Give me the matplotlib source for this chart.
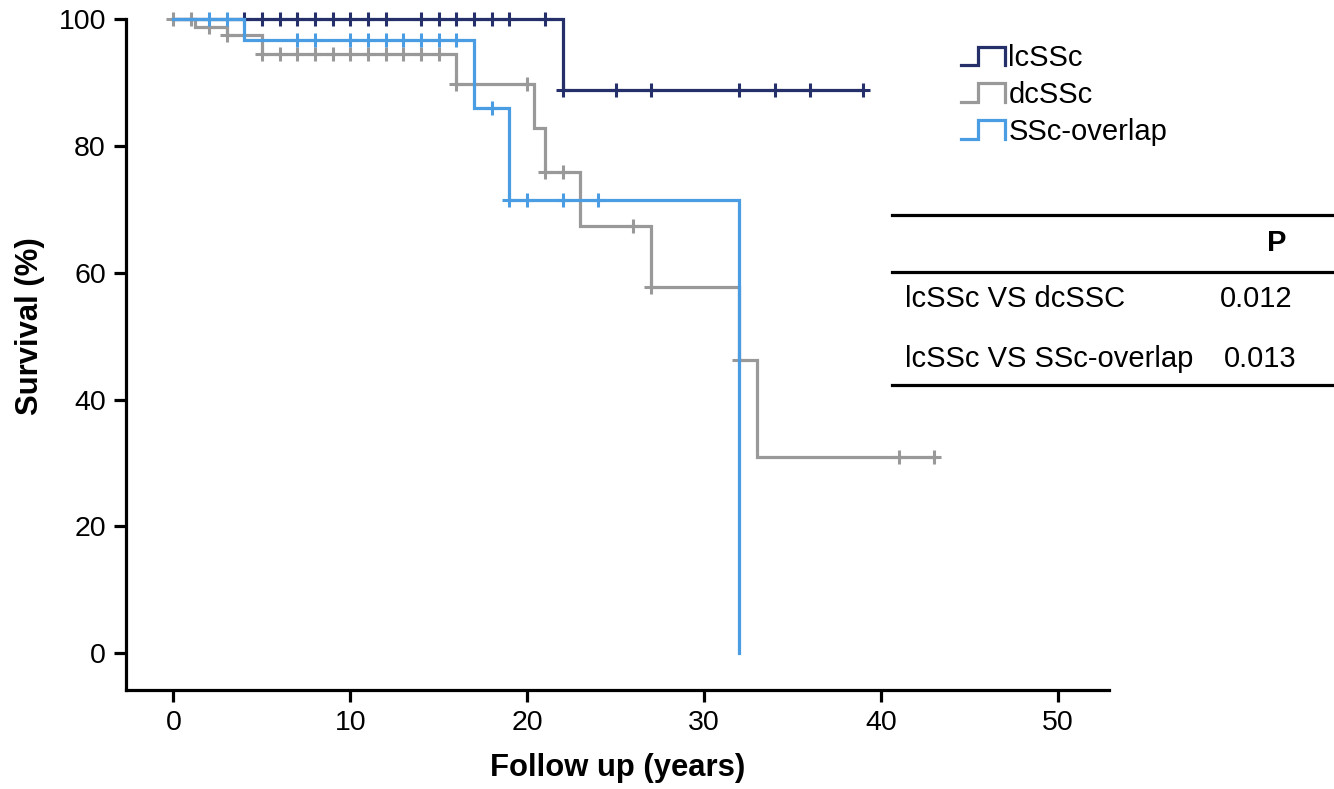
import numpy as np
import matplotlib
matplotlib.use("Agg")
import matplotlib.pyplot as plt
from matplotlib.legend_handler import HandlerBase
from matplotlib.lines import Line2D

plt.rcParams['font.family'] = ['Liberation Sans', 'DejaVu Sans']

# Kaplan-Meier step data (time in years, survival in %)
lc_times = [0, 22, 39]
lc_surv = [100, 88.9, 88.9]
lc_cens_t = [4, 5, 6, 7, 8, 9, 10, 11, 12, 14, 15, 16, 17, 18, 19, 21, 22, 25, 27, 32, 34, 36, 39]
lc_cens_s = [100] * 16 + [88.9] * 7

dc_times = [0, 1.2, 3, 5, 16, 20.4, 21, 23, 27, 32, 33, 43]
dc_surv = [100, 98.8, 97.5, 94.6, 89.8, 82.9, 75.9, 67.4, 57.8, 46.2, 30.9, 30.9]
dc_cens_t = [0, 1, 2, 3, 5, 6, 7, 8, 9, 10, 11, 12, 13, 14, 15, 16, 20, 21, 22, 26, 27, 32, 41, 43]
dc_cens_s = [100, 100, 98.8, 97.5] + [94.6] * 11 + [89.8, 89.8, 75.9, 75.9, 67.4, 57.8, 46.2, 30.9, 30.9]

ov_times = [0, 4, 17, 19, 32]
ov_surv = [100, 96.7, 86.0, 71.5, 0]
ov_cens_t = [2, 3, 7, 8, 10, 11, 12, 13, 14, 15, 16, 18, 19, 20, 22, 24]
ov_cens_s = [100, 100] + [96.7] * 9 + [86.0] + [71.5] * 4

labels = ["lcSSc", "dcSSc", "SSc-overlap"]
colors = ["#25306b", "#999999", "#4a9de3"]

comparisons = ["lcSSc VS dcSSC", "lcSSc VS SSc-overlap"]
p_values = ["0.012", "0.013"]


class StepHandler(HandlerBase):
    def create_artists(self, legend, orig_handle, xdescent, ydescent,
                       width, height, fontsize, trans):
        xs = np.array([0, 0.38, 0.38, 1, 1]) * width - xdescent
        ys = np.array([0, 0, 1, 1, 0]) * height - ydescent
        ln = Line2D(xs, ys, color=orig_handle.get_color(),
                    lw=orig_handle.get_linewidth(), solid_joinstyle='miter')
        ln.set_transform(trans)
        return [ln]


fig = plt.figure(figsize=(13.34, 7.89), dpi=100)
ax = fig.add_axes([0.0945, 0.1255, 0.7368, 0.85])

series = [
    (lc_times, lc_surv, lc_cens_t, lc_cens_s),
    (dc_times, dc_surv, dc_cens_t, dc_cens_s),
    (ov_times, ov_surv, ov_cens_t, ov_cens_s),
]
order = [1, 0, 2]
handles = {}
for i in order:
    t, s, ct, cs = series[i]
    h, = ax.step(t, s, where='post', color=colors[i], lw=2.3, clip_on=False,
                 zorder=2 + i, solid_joinstyle='miter')
    ax.plot(ct, cs, ls='none', marker='+', ms=10, mew=2.2, color=colors[i],
            clip_on=False, zorder=2 + i)
    handles[i] = h

ax.set_xlim(-2.68, 52.9)
ax.set_ylim(-5.8, 100)
ax.set_xticks(np.arange(0, 51, 10))
ax.set_yticks(np.arange(0, 101, 20))
for side in ['top', 'right']:
    ax.spines[side].set_visible(False)
for side in ['left', 'bottom']:
    ax.spines[side].set_linewidth(2.3)
ax.tick_params(labelsize=20.5, width=2.3, length=8.5, pad=6)
ax.set_xlabel("Follow up (years)", fontsize=22.3, fontweight='bold', labelpad=12)
ax.set_ylabel("Survival (%)", fontsize=22.3, fontweight='bold', labelpad=10, y=0.543)

leg = fig.legend([handles[i] for i in range(3)], labels, loc='upper left',
                 bbox_to_anchor=(0.7205, 0.944), frameon=False, fontsize=21,
                 handler_map={Line2D: StepHandler()}, handlelength=1.5,
                 handleheight=0.6, handletextpad=0.12, labelspacing=0.3,
                 borderpad=0, borderaxespad=0)

# p-value table
W, H = 1334, 789
for yp in [215, 272, 385]:
    fig.add_artist(Line2D([892 / W, 1.0], [1 - yp / H, 1 - yp / H],
                          color='black', lw=2.3, transform=fig.transFigure))
fig.text(1277 / W, 1 - 243 / H, "P", fontsize=21, fontweight='bold',
         ha='center', va='center')
row_y = [299, 359]
p_x = [1256, 1260]
for name, p, yp, xp in zip(comparisons, p_values, row_y, p_x):
    fig.text(905 / W, 1 - yp / H, name, fontsize=21, ha='left', va='center')
    fig.text(xp / W, 1 - yp / H, p, fontsize=21, ha='center', va='center')

fig.savefig("out.png", dpi=100)
